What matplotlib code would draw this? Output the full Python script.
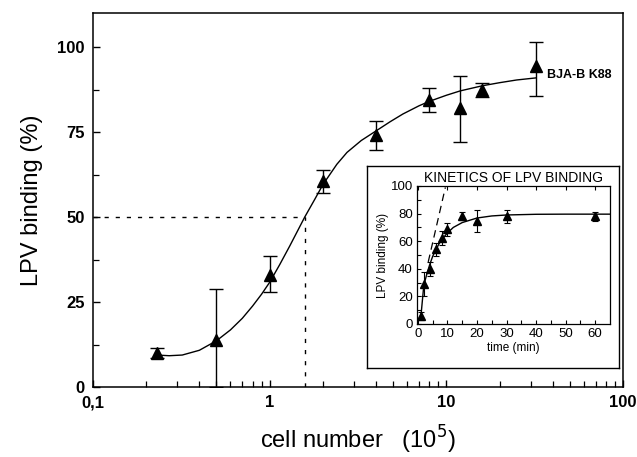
import numpy as np
import matplotlib
matplotlib.use("Agg")
import matplotlib.pyplot as plt
from matplotlib.ticker import FixedLocator, NullFormatter

plt.rcParams.update({
    "font.family": ["Liberation Sans", "DejaVu Sans"],
    "xtick.direction": "in", "ytick.direction": "in",
    "axes.linewidth": 1.1,
})

# main panel: binding vs cell number (x 10^5)
cells = [0.23, 0.5, 1.0, 2.0, 4.0, 8.0, 12.0, 16.0, 32.0]
binding = [10.0, 13.8, 33.0, 60.5, 74.0, 84.5, 82.0, 87.5, 94.5]
err_lo = [1.5, 13.8, 5.0, 3.5, 4.3, 3.7, 10.0, 2.2, 9.0]
err_hi = [1.5, 15.0, 5.5, 3.3, 4.3, 3.5, 9.5, 2.0, 7.0]

fit_x = [0.23, 0.27, 0.32, 0.4, 0.5, 0.6, 0.7, 0.8, 0.9, 1.0, 1.14, 1.3, 1.58,
         1.8, 2.0, 2.4, 2.74, 3.3, 4.05, 4.8, 5.68, 7.0, 8.0, 10.0, 12.0, 16.0,
         20.0, 25.0, 32.0]
fit_y = [9.4, 9.2, 9.4, 10.8, 13.6, 16.8, 20.2, 23.8, 27.3, 30.8, 36.0, 41.5,
         50.0, 55.2, 59.5, 65.5, 69.0, 72.5, 75.5, 78.0, 80.3, 82.7, 84.0,
         85.8, 87.1, 88.6, 89.5, 90.3, 90.9]
half_x, half_y = 1.58, 50

# inset: kinetics
t_min = [1, 2, 4, 6, 8, 10, 15, 20, 30, 60]
kin = [6.0, 29.0, 40.0, 54.0, 62.5, 68.5, 78.5, 74.5, 78.0, 78.0]
kin_err = [3.0, 9.0, 5.0, 4.5, 5.0, 4.5, 3.0, 8.0, 4.5, 3.5]
kfit_t = [1, 2, 3, 4, 5, 6, 7, 8, 10, 12, 15, 20, 25, 30, 40, 50, 65]
kfit_y = [5, 28, 36, 43, 49, 53.5, 57.5, 61, 66, 70, 73.5, 76.8, 78.3, 79, 79.5, 79.6, 79.6]
slope_t = [3.5, 9.3]
slope_y = [45, 99]

fig = plt.figure(figsize=(6.37, 4.57), dpi=100)
ax = fig.add_axes([93 / 637, 1 - 387 / 457, 530 / 637, 374 / 457])
ax.set_xscale("log")
ax.set_xlim(0.1, 100)
ax.set_ylim(0, 110)

ax.plot(fit_x, fit_y, color="black", lw=1.0)
ax.errorbar(cells, binding, yerr=[err_lo, err_hi], fmt="^", color="black",
            ms=9, capsize=5, elinewidth=1.0, capthick=1.0)
ax.plot([0.1, half_x], [half_y, half_y], color="black", lw=1.0, ls=(0, (3, 5)))
ax.plot([half_x, half_x], [0, half_y], color="black", lw=1.0, ls=(0, (3, 5)))
ax.text(37, 91.8, "BJA-B K88", fontsize=9, fontweight="bold", ha="left",
        va="center")

ax.set_xticks([0.1, 1, 10, 100])
ax.set_xticklabels(["0,1", "1", "10", "100"])
ax.xaxis.set_minor_locator(FixedLocator(
    [m * d for d in (0.1, 1, 10) for m in range(2, 10)]))
ax.xaxis.set_minor_formatter(NullFormatter())
ax.set_yticks([0, 25, 50, 75, 100])
ax.yaxis.set_minor_locator(FixedLocator([12.5, 37.5, 62.5, 87.5]))
ax.tick_params(which="major", length=5, width=1.0, labelsize=12, pad=6)
ax.tick_params(which="minor", length=4, width=0.9)
for lab in ax.get_xticklabels() + ax.get_yticklabels():
    lab.set_fontweight("bold")
ax.set_ylabel("LPV binding (%)", fontsize=17, labelpad=10)
ax.set_xlabel("cell number   (10$^5$)", fontsize=17, labelpad=10)

# inset frame
frame = fig.add_axes([367 / 637, 1 - 368 / 457, 252 / 637, 202 / 457])
frame.set_xticks([])
frame.set_yticks([])
for s in frame.spines.values():
    s.set_linewidth(1.0)
frame.text(0.58, 0.94, "KINETICS OF LPV BINDING", transform=frame.transAxes,
           ha="center", va="center", fontsize=10)

ins = fig.add_axes([417 / 637, 1 - 324 / 457, 193 / 637, 138 / 457])
ins.set_xlim(-0.3, 65)
ins.set_ylim(0, 100)
ins.plot(kfit_t, kfit_y, color="black", lw=1.0)
ins.plot(slope_t, slope_y, color="black", lw=0.9, ls=(0, (6, 4)))
ins.errorbar(t_min, kin, yerr=kin_err, fmt="^", color="black", ms=5.5,
             capsize=2, elinewidth=0.8, capthick=0.8)
ins.set_xticks(range(0, 70, 10))
ins.xaxis.set_minor_locator(FixedLocator(range(5, 65, 10)))
ins.set_yticks(range(0, 120, 20))
ins.yaxis.set_minor_locator(FixedLocator(range(10, 100, 20)))
ins.tick_params(which="both", top=True, labelsize=9.5, pad=3, length=3, width=0.8)
ins.tick_params(which="minor", top=False)
ins.set_xlabel("time (min)", fontsize=8.5, labelpad=1)
ins.set_ylabel("LPV binding (%)", fontsize=8.5, labelpad=1)
for s in ins.spines.values():
    s.set_linewidth(0.9)

fig.savefig("out.png", dpi=100)
